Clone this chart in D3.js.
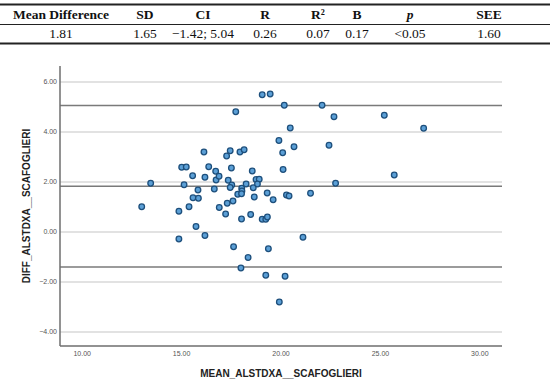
<!DOCTYPE html>
<html>
<head>
<meta charset="utf-8">
<script src="https://cdn.jsdelivr.net/npm/d3@7"></script>
<style>
  body { margin: 0; background: #fff; }
</style>
</head>
<body>
<div id="container"></div>
<script>
const WIDTH = 550;
const HEIGHT = 386;
const PLOT = { LEFT: 60, RIGHT: 502, TOP: 66, BOTTOM: 346 };

// table above the chart
const tableHeaders = ['Mean Difference', 'SD', 'CI', 'R', 'R\u00B2', 'B', 'p', 'SEE'];
const tableValues = ['1.81', '1.65', '\u22121.42; 5.04', '0.26', '0.07', '0.17', '<0.05', '1.60'];
const tableCenters = [61, 145, 203, 265, 318, 357, 410, 489];

// scatter data
const meanVals = [13.02, 13.47, 14.89, 14.89, 15.03, 15.26, 15.15, 15.40, 15.58, 15.75,
                  15.85, 15.60, 15.87, 16.15, 16.20, 16.20, 16.39, 16.74, 16.67, 16.76,
                  16.91, 16.92, 17.29, 17.24, 17.32, 17.37, 17.47, 17.53, 17.55, 17.47,
                  17.61, 17.64, 17.75, 17.85, 17.96, 18.01, 18.04, 18.05, 18.06, 18.04,
                  18.17, 18.27, 18.37, 18.50, 18.58, 18.63, 18.68, 18.77, 18.93, 18.84,
                  19.08, 19.48, 19.08, 19.26, 19.34, 19.26, 19.33, 19.39, 19.63, 19.92,
                  19.94, 20.13, 20.11, 20.19, 20.23, 20.30, 20.43, 20.49, 20.68, 21.13,
                  21.51, 22.09, 22.44, 22.69, 22.77, 25.22, 25.72, 27.20];
const diffVals = [0.99, 1.93, 0.81, -0.30, 2.57, 2.58, 1.87, 0.99, 2.23, 0.20,
                  1.66, 1.35, 1.33, 3.18, -0.16, 2.17, 2.59, 2.41, 1.70, 2.06,
                  2.21, 0.96, 3.02, 0.70, 1.13, 2.05, 3.23, 2.54, 1.86, 1.76,
                  1.22, -0.61, 4.79, 1.49, 3.18, -1.46, 0.50, 1.73, 1.62, 1.51,
                  3.27, 1.90, -1.04, 0.68, 2.42, 1.75, 1.38, 2.08, 2.09, 1.90,
                  5.47, 5.50, 0.49, 0.49, 0.58, -1.75, 1.54, -0.69, 1.27, 3.64,
                  -2.82, 2.48, 3.15, 5.05, -1.79, 1.46, 1.42, 4.14, 3.39, -0.23,
                  1.53, 5.05, 3.45, 4.59, 1.93, 4.65, 2.26, 4.13];

const xTicks = [10, 15, 20, 25, 30];
const yTicks = [-4, -2, 0, 2, 4, 6];
const refLines = [5.04, 1.81, -1.42];   // upper LoA, mean, lower LoA

const svg = d3.select('#container')
              .append('svg')
                .attr('width', WIDTH)
                .attr('height', HEIGHT);

// ---- table ----
const table = svg.append('g')
                 .style('font-family', '"Liberation Serif", "DejaVu Serif", serif')
                 .style('font-size', '13.5px')
                 .attr('fill', '#111');

table.append('line').attr('x1', 0).attr('x2', WIDTH).attr('y1', 4.5).attr('y2', 4.5)
     .attr('stroke', '#222').attr('stroke-width', 2);
table.append('line').attr('x1', 0).attr('x2', WIDTH).attr('y1', 24.5).attr('y2', 24.5)
     .attr('stroke', '#222').attr('stroke-width', 1);
table.append('line').attr('x1', 0).attr('x2', WIDTH).attr('y1', 43.5).attr('y2', 43.5)
     .attr('stroke', '#222').attr('stroke-width', 2);

table.selectAll('text.head')
     .data(tableHeaders)
     .join('text')
       .attr('class', 'head')
       .attr('x', (d, i) => tableCenters[i])
       .attr('y', 19)
       .attr('text-anchor', 'middle')
       .style('font-weight', 'bold')
       .style('font-style', d => d === 'p' ? 'italic' : 'normal')
       .text(d => d);

table.selectAll('text.val')
     .data(tableValues)
     .join('text')
       .attr('class', 'val')
       .attr('x', (d, i) => tableCenters[i])
       .attr('y', 38)
       .attr('text-anchor', 'middle')
       .text(d => d);

// ---- scatter ----
const xscale = d3.scaleLinear().domain([8.91, 31.14]).range([PLOT.LEFT, PLOT.RIGHT]);
const yscale = d3.scaleLinear().domain([-4.58, 6.62]).range([PLOT.BOTTOM, PLOT.TOP]);

const chart = svg.append('g')
                 .style('font-family', '"Liberation Sans", Arial, sans-serif');

// grid lines
const grid = chart.append('g')
                  .attr('transform', `translate(${PLOT.LEFT}, 0)`)
                  .call(d3.axisLeft(yscale).tickValues(yTicks)
                          .tickSize(-(PLOT.RIGHT - PLOT.LEFT)).tickFormat(''));
grid.select('.domain').remove();
grid.selectAll('line').attr('stroke', '#d9d9d9').attr('stroke-width', 1.5);

// reference lines
chart.selectAll('line.ref')
     .data(refLines)
     .join('line')
       .attr('class', 'ref')
       .attr('x1', PLOT.LEFT)
       .attr('x2', PLOT.RIGHT)
       .attr('y1', d => yscale(d))
       .attr('y2', d => yscale(d))
       .attr('stroke', '#7a7a7a')
       .attr('stroke-width', 1.5);

// axes
const yAxis = chart.append('g')
                   .attr('transform', `translate(${PLOT.LEFT}, 0)`)
                   .call(d3.axisLeft(yscale).tickValues(yTicks)
                           .tickSize(0).tickPadding(3).tickFormat(d3.format('.2f')));
yAxis.select('.domain').attr('stroke', '#6e6e6e').attr('stroke-width', 1.5)
     .attr('d', `M0,${PLOT.TOP}V${PLOT.BOTTOM}`);
yAxis.selectAll('text').attr('fill', '#555').style('font-size', '7px');

const xAxis = chart.append('g')
                   .attr('transform', `translate(0, ${PLOT.BOTTOM})`)
                   .call(d3.axisBottom(xscale).tickValues(xTicks)
                           .tickSize(0).tickPadding(5).tickFormat(d3.format('.2f')));
xAxis.select('.domain').attr('stroke', '#6e6e6e').attr('stroke-width', 1.5)
     .attr('d', `M${PLOT.LEFT},0H${PLOT.RIGHT}`);
xAxis.selectAll('text').attr('fill', '#555').style('font-size', '7px');

// axis titles
chart.append('text')
     .attr('x', 281)
     .attr('y', 377)
     .attr('text-anchor', 'middle')
     .style('font-size', '10px')
     .style('font-weight', 'bold')
     .attr('fill', '#222')
     .text('MEAN_ALSTDXA__SCAFOGLIERI');

chart.append('text')
     .attr('transform', 'translate(30, 206) rotate(-90)')
     .attr('text-anchor', 'middle')
     .style('font-size', '10px')
     .style('font-weight', 'bold')
     .attr('fill', '#222')
     .text('DIFF_ALSTDXA__SCAFOGLIERI');

// points
const points = meanVals.map((m, i) => ({ mean: m, diff: diffVals[i] }));

chart.append('g')
     .selectAll('circle')
     .data(points)
     .join('circle')
       .attr('cx', d => xscale(d.mean))
       .attr('cy', d => yscale(d.diff))
       .attr('r', 2.8)
       .attr('fill', '#5b9fd6')
       .attr('stroke', '#1d4f7c')
       .attr('stroke-width', 1.3);
</script>
</body>
</html>
